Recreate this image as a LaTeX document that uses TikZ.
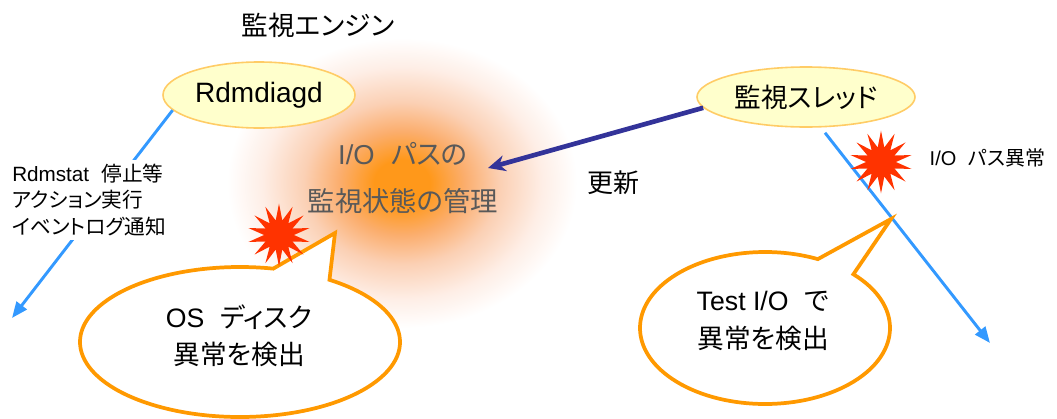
\documentclass[tikz,border=0pt]{standalone}
\usepackage{fontspec}
\setmainfont{Liberation Sans}
\newfontfamily\jp[RawFeature=+palt]{Noto Sans CJK JP}
\usepackage{tikz}
\usetikzlibrary{positioning, arrows.meta, shapes.geometric}
\definecolor{lblue}{HTML}{3399FF}
\definecolor{dblue}{HTML}{333399}
\definecolor{callorange}{HTML}{FF9900}
\definecolor{burstred}{HTML}{FF3300}
\definecolor{ellfill}{HTML}{FFFFCC}
\definecolor{elldraw}{HTML}{FFCC66}
\definecolor{txtgray}{HTML}{595959}
\definecolor{glowor}{HTML}{FF981A}
\definecolor{glowmid}{HTML}{FBAE6E}
\definecolor{glowpeach}{HTML}{FBD0B4}
\definecolor{glowpale}{HTML}{FEEEE6}
\pgfdeclareradialshading{glow}{\pgfpoint{0bp}{0bp}}{color(0bp)=(glowor); color(4bp)=(glowor); color(9bp)=(glowmid); color(14bp)=(glowpeach); color(20bp)=(glowpale); color(25bp)=(white); color(50bp)=(white)}

\begin{document}
\begin{tikzpicture}[x=0.75pt, y=0.75pt,
  bubble/.style={ellipse, draw=elldraw, line width=1.2pt, fill=ellfill, inner sep=0pt},
  burst/.style={star, star points=14, star point ratio=2.1, fill=burstred, minimum size=47pt, inner sep=0pt},
  callout/.style={draw=callorange, line width=2.8pt, fill=white, line join=miter},
  jtext/.style={font=\jp\fontsize{20}{28}\selectfont, align=center},
  flow/.style={lblue, line width=2.2pt, -{Triangle[length=12pt, width=9.5pt]}}]
\useasboundingbox (0,0) rectangle (1057,-418);
% glow behind the state text
\shade[shading=glow] (402,-183) ellipse [x radius=175, y radius=145];

\node[font=\jp\fontsize{20}{24}\selectfont] (engine) at (318,-25) {監視エンジン};
\node[bubble, minimum width=144pt, minimum height=49.5pt, font=\fontsize{21}{24}\selectfont] (rd) at (259,-95) {Rdmdiagd};
\coordinate (leftend) at (12,-318);
\draw[flow] (rd.190) -- (leftend);
\node[font=\fontsize{15.5}{20}\selectfont, align=left, anchor=west, fill=white, inner sep=3pt] (acts) at (8,-200)
  {Rdmstat\hspace{.6em}{\jp 停止等}\\{\jp アクション実行}\\{\jp イベントログ通知}};

\node[font=\jp\fontsize{20.5}{35}\selectfont, text=txtgray, align=center] (state) at (403,-178)
  {{\rmfamily I/O}\hspace{.6em}パスの\\監視状態の管理};
\node[jtext, font=\jp\fontsize{19.5}{24}\selectfont] (upd) at (613,-183) {更新};

\node[bubble, minimum width=163.5pt, minimum height=45pt, font=\jp\fontsize{20}{24}\selectfont] (ts) at (806,-97) {監視スレッド};
\coordinate (stateend) at (488,-168);
\draw[dblue, line width=3.5pt, -{Stealth[length=13pt, width=12pt]}] (ts.186) -- (stateend);
\coordinate (rightend) at (990,-343);
\draw[flow, shorten <=5pt] (ts.-64) -- (rightend);

% callouts
\draw[callout] (240,-342) ++(56:160 and 75) arc[start angle=56, end angle=-282, x radius=160, y radius=75] -- (335,-233) -- cycle;
\node[jtext] (osmsg) at (239,-336) {{\rmfamily OS}\hspace{.6em}ディスク\\異常を検出};
\draw[callout] (765,-328) ++(45:125 and 76) arc[start angle=45, end angle=-295, x radius=125, y radius=76] -- (891,-219) -- cycle;
\node[jtext] (tiomsg) at (763,-321) {{\rmfamily Test I/O}\hspace{.6em}で\\異常を検出};

\node[burst] (osburst) at (279,-235) {};
\node[burst] (ioburst) at (881,-162) {};
\node[anchor=west, font=\fontsize{15}{18}\selectfont] (ioerr) at (925,-158) {I/O\hspace{.6em}{\jp パス異常}};
\end{tikzpicture}
\end{document}
